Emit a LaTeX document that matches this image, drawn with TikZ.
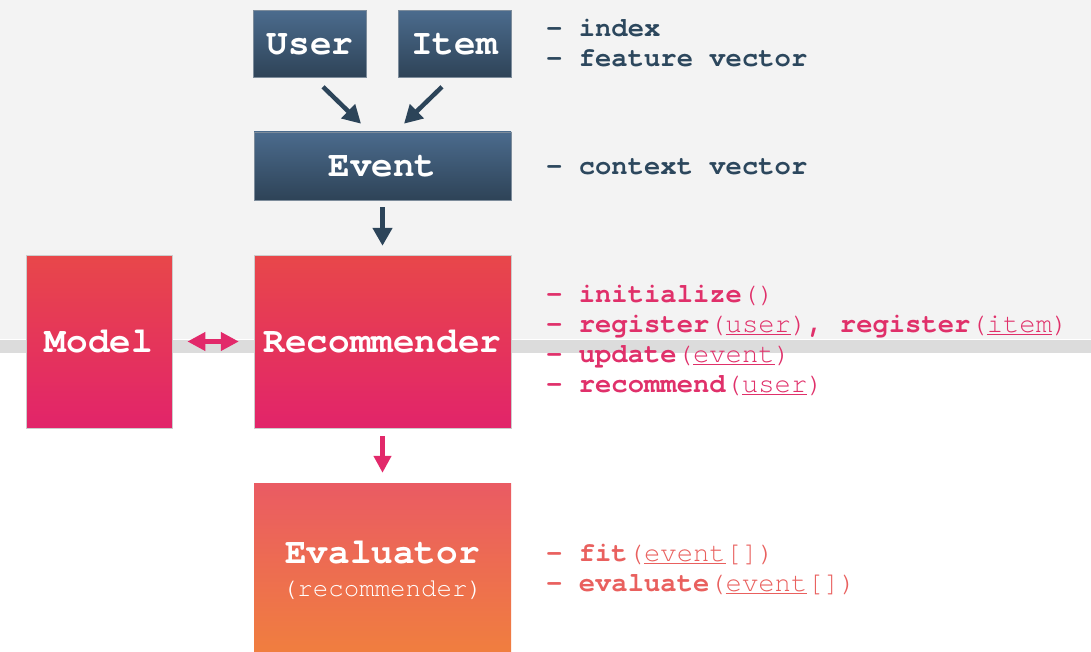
\documentclass[tikz,border=0pt]{standalone}
\usepackage{fontspec}
\setmonofont{texgyrecursor-regular}[Extension=.otf,
  BoldFont=texgyrecursor-bold, ItalicFont=texgyrecursor-italic,
  BoldItalicFont=texgyrecursor-bolditalic, Ligatures=NoCommon]
\usetikzlibrary{arrows.meta}

\definecolor{bgtop}{HTML}{F3F3F3}
\definecolor{bandgray}{HTML}{DCDCDC}
\definecolor{darktop}{HTML}{4B6B8D}
\definecolor{darkbot}{HTML}{2E4357}
\definecolor{redtop}{HTML}{E8474A}
\definecolor{redbot}{HTML}{E2246A}
\definecolor{evtop}{HTML}{EA5B63}
\definecolor{evbot}{HTML}{F07E3F}
\definecolor{darktext}{HTML}{2C475D}
\definecolor{redtext}{HTML}{E0306A}
\definecolor{evtext}{HTML}{E9605E}
\definecolor{arrowdark}{HTML}{2C4459}
\definecolor{arrowpink}{HTML}{E2296A}

\newcommand\argline[1]{\underline{#1}}

\tikzset{
  boxfont/.style={font=\ttfamily\bfseries\fontsize{36}{40}\selectfont, text=white},
  darkbox/.style={boxfont, top color=darktop, bottom color=darkbot,
    draw={rgb,255:red,125;green,140;blue,155}, line width=0.6pt, inner sep=0pt},
  redbox/.style={boxfont, top color=redtop, bottom color=redbot,
    draw=black!20, line width=0.4pt, inner sep=0pt},
  evbox/.style={top color=evtop, bottom color=evbot, draw=none, inner sep=0pt},
  listtext/.style={anchor=base west, inner sep=0pt,
    font=\ttfamily\fontsize{27.2}{30}\selectfont},
  darklist/.style={listtext, text=darktext},
  redlist/.style={listtext, text=redtext},
  evlist/.style={listtext, text=evtext},
  darkarrow/.style={draw=arrowdark, line width=4.5pt,
    -{Triangle[length=18pt,width=19pt]}},
  pinkarrow/.style={draw=arrowpink, line width=4.2pt,
    -{Triangle[length=17pt,width=17pt]}},
  pinkdouble/.style={draw=arrowpink, line width=4.2pt,
    {Triangle[length=18pt,width=18pt]}-{Triangle[length=18pt,width=18pt]}}
}

\begin{document}
\begin{tikzpicture}[x=1pt,y=-1pt]
\useasboundingbox (0,0) rectangle (1091,652);

% backdrop: light upper panel, thin white seam, grey band, white lower panel
\fill[white] (0,0) rectangle (1091,652);
\fill[bgtop] (0,0) rectangle (1091,339);
\fill[bandgray] (0,340) rectangle (1091,353);

% boxes
\node[darkbox, minimum width=113pt, minimum height=67pt] (user) at (310,44) {User};
\node[darkbox, minimum width=113pt, minimum height=67pt] (item) at (454.5,44) {Item};
\node[darkbox, minimum width=257pt, minimum height=68pt] (event) at (382.5,166) {Event};
\node[redbox, minimum width=145.7pt, minimum height=173pt] (model) at (98.85,341.5) {Model};
\node[redbox, minimum width=257pt, minimum height=173pt] (rec) at (382.5,341.5) {Recommender};
\node[evbox, minimum width=257pt, minimum height=169pt] (eval) at (382.5,567.5) {};
\node[anchor=base, inner sep=0pt, text=white,
  font=\ttfamily\bfseries\fontsize{36}{40}\selectfont] (evname) at (382.5,563) {Evaluator};
\node[anchor=base, inner sep=0pt, text=white,
  font=\ttfamily\fontsize{25.8}{30}\selectfont] (evsub) at (382.5,596.5) {(recommender)};

% connectors
\draw[darkarrow] ([xshift=13pt,yshift=-9pt]user.south) -- ([xshift=-21.5pt,yshift=8pt]event.north);
\draw[darkarrow] ([xshift=-12.5pt,yshift=-9pt]item.south) -- ([xshift=21.5pt,yshift=8pt]event.north);
\draw[darkarrow] ([yshift=-7pt]event.south) -- ([yshift=9pt]rec.north);
\draw[pinkdouble] ([xshift=15.5pt]model.east) -- ([xshift=-15pt]rec.west);
\draw[pinkarrow] ([yshift=-8pt]rec.south) -- ([yshift=10pt]eval.north);

% descriptions of the data objects
\node[darklist] (d1) at (546,36.5) {\bfseries - index};
\node[darklist] (d2) at (546,66.5) {\bfseries - feature vector};
\node[darklist] (d3) at (546,174.5) {\bfseries - context vector};

% recommender interface
\node[redlist] (r1) at (546,302.5) {{\bfseries - initialize}()};
\node[redlist] (r2) at (546,332.5) {{\bfseries - register}(\argline{user}){\bfseries, register}(\argline{item})};
\node[redlist] (r3) at (546,362.5) {{\bfseries - update}(\argline{event})};
\node[redlist] (r4) at (546,392.5) {{\bfseries - recommend}(\argline{user})};

% evaluator interface
\node[evlist] (e1) at (546,561) {{\bfseries - fit}(\argline{event}[])};
\node[evlist] (e2) at (546,591) {{\bfseries - evaluate}(\argline{event}[])};
\end{tikzpicture}
\end{document}
